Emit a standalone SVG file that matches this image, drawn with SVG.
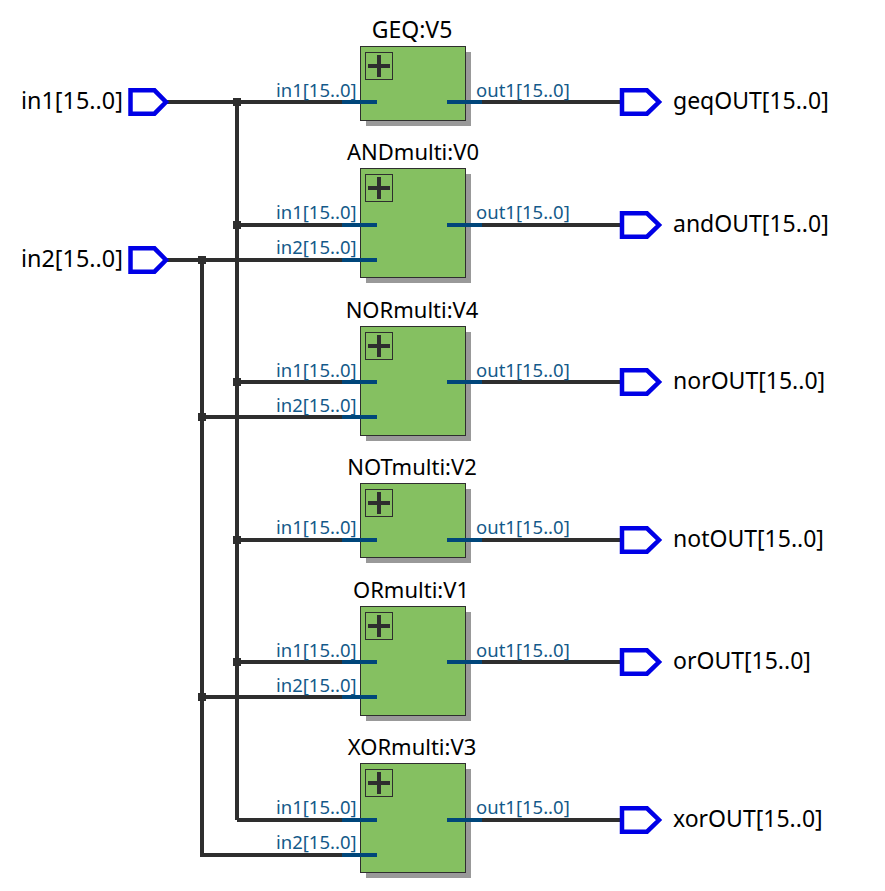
<svg xmlns="http://www.w3.org/2000/svg" width="885" height="891" viewBox="0 0 885 891">
<style>
text{font-family:"Noto Sans","Open Sans",sans-serif;fill:#000}
.t{font-size:23px}
.i{font-size:23.4px}
.m{font-size:22px;text-anchor:middle}
.g{font-size:23px;text-anchor:middle}
.l{font-size:18.5px;fill:#145a8a}
.w{stroke:#2e2e2e;stroke-width:4;fill:none}
.p{stroke:#00467a;stroke-width:4;fill:none}
.b{fill:#85c061;stroke:#2e2e2e;stroke-width:1}
.s{fill:#999}
.pin{fill:#fff;stroke:#0000e6;stroke-width:4.5}
.j{fill:#2e2e2e}
.x{fill:none;stroke:#2e2e2e;stroke-width:1}
.c{stroke:#2e2e2e;stroke-width:4;fill:none}
</style>
<defs>
<path id="pi" class="pin" d="M0-11.7H24L35.5 0L24 11.7H0Z"/>
<path id="po" class="pin" d="M0-11.7H25L37 0L25 11.7H0Z"/>
<g id="plus"><rect class="x" x="5.5" y="6.5" width="27" height="27"/><path class="c" d="M8 20H30M19 9V31"/></g>
</defs>
<g id="connectors">
<path class="w" d="M165 102H345M237 102V820M165 260H345M202 260V855H345M237 225H345M237 382H345M202 417H345M237 540H345M237 662H345M202 697H345M237 820H345"/>
<path class="w" d="M481 102H622M481 225H622M481 382H622M481 540H622M481 662H622M481 820H622"/>
<path class="j" d="M233 98h8v8h-8zM233 221h8v8h-8zM198 256h8v8h-8zM233 378h8v8h-8zM198 413h8v8h-8zM233 536h8v8h-8zM233 658h8v8h-8zM198 693h8v8h-8z"/>
</g>
<g id="in1"><text class="i" x="21" y="109">in1[15..0]</text><use href="#pi" x="130.5" y="102"/></g>
<g id="in2"><text class="i" x="21" y="267">in2[15..0]</text><use href="#pi" x="130.5" y="260"/></g>
<g id="GEQ">
<rect class="s" x="366" y="52" width="105" height="74"/><rect class="b" x="360.5" y="46.5" width="105" height="74"/>
<use href="#plus" x="360" y="46"/>
<text class="g" x="412" y="38">GEQ:V5</text>
<path class="p" d="M342 102H377M447 102H482"/>
<text class="l" x="276" y="97">in1[15..0]</text><text class="l" x="476" y="97">out1[15..0]</text>
</g>
<g id="ANDmulti">
<rect class="s" x="366" y="174" width="105" height="109"/><rect class="b" x="360.5" y="168.5" width="105" height="109"/>
<use href="#plus" x="360" y="168"/>
<text class="m" x="413" y="160">ANDmulti:V0</text>
<path class="p" d="M342 225H377M342 260H377M447 225H482"/>
<text class="l" x="276" y="219">in1[15..0]</text><text class="l" x="276" y="254">in2[15..0]</text><text class="l" x="476" y="219">out1[15..0]</text>
</g>
<g id="NORmulti">
<rect class="s" x="366" y="332" width="105" height="109"/><rect class="b" x="360.5" y="326.5" width="105" height="109"/>
<use href="#plus" x="360" y="326"/>
<text class="m" x="412" y="318">NORmulti:V4</text>
<path class="p" d="M342 382H377M342 417H377M447 382H482"/>
<text class="l" x="276" y="377">in1[15..0]</text><text class="l" x="276" y="412">in2[15..0]</text><text class="l" x="476" y="377">out1[15..0]</text>
</g>
<g id="NOTmulti">
<rect class="s" x="366" y="489" width="105" height="74"/><rect class="b" x="360.5" y="483.5" width="105" height="74"/>
<use href="#plus" x="360" y="483"/>
<text class="m" x="412" y="475">NOTmulti:V2</text>
<path class="p" d="M342 540H377M447 540H482"/>
<text class="l" x="276" y="534">in1[15..0]</text><text class="l" x="476" y="534">out1[15..0]</text>
</g>
<g id="ORmulti">
<rect class="s" x="366" y="612" width="105" height="109"/><rect class="b" x="360.5" y="606.5" width="105" height="109"/>
<use href="#plus" x="360" y="606"/>
<text class="m" x="411" y="598">ORmulti:V1</text>
<path class="p" d="M342 662H377M342 697H377M447 662H482"/>
<text class="l" x="276" y="657">in1[15..0]</text><text class="l" x="276" y="692">in2[15..0]</text><text class="l" x="476" y="657">out1[15..0]</text>
</g>
<g id="XORmulti">
<rect class="s" x="366" y="769" width="105" height="109"/><rect class="b" x="360.5" y="763.5" width="105" height="109"/>
<use href="#plus" x="360" y="763"/>
<text class="m" x="412" y="755">XORmulti:V3</text>
<path class="p" d="M342 820H377M342 855H377M447 820H482"/>
<text class="l" x="276" y="814">in1[15..0]</text><text class="l" x="276" y="849">in2[15..0]</text><text class="l" x="476" y="814">out1[15..0]</text>
</g>
<g id="geqOUT"><use href="#po" x="622" y="102"/><text class="t" x="673" y="109">geqOUT[15..0]</text></g>
<g id="andOUT"><use href="#po" x="622" y="225"/><text class="t" x="673" y="232">andOUT[15..0]</text></g>
<g id="norOUT"><use href="#po" x="622" y="382"/><text class="t" x="673" y="389">norOUT[15..0]</text></g>
<g id="notOUT"><use href="#po" x="622" y="540"/><text class="t" x="673" y="547">notOUT[15..0]</text></g>
<g id="orOUT"><use href="#po" x="622" y="662"/><text class="t" x="673" y="669">orOUT[15..0]</text></g>
<g id="xorOUT"><use href="#po" x="622" y="820"/><text class="t" x="673" y="827">xorOUT[15..0]</text></g>
</svg>
